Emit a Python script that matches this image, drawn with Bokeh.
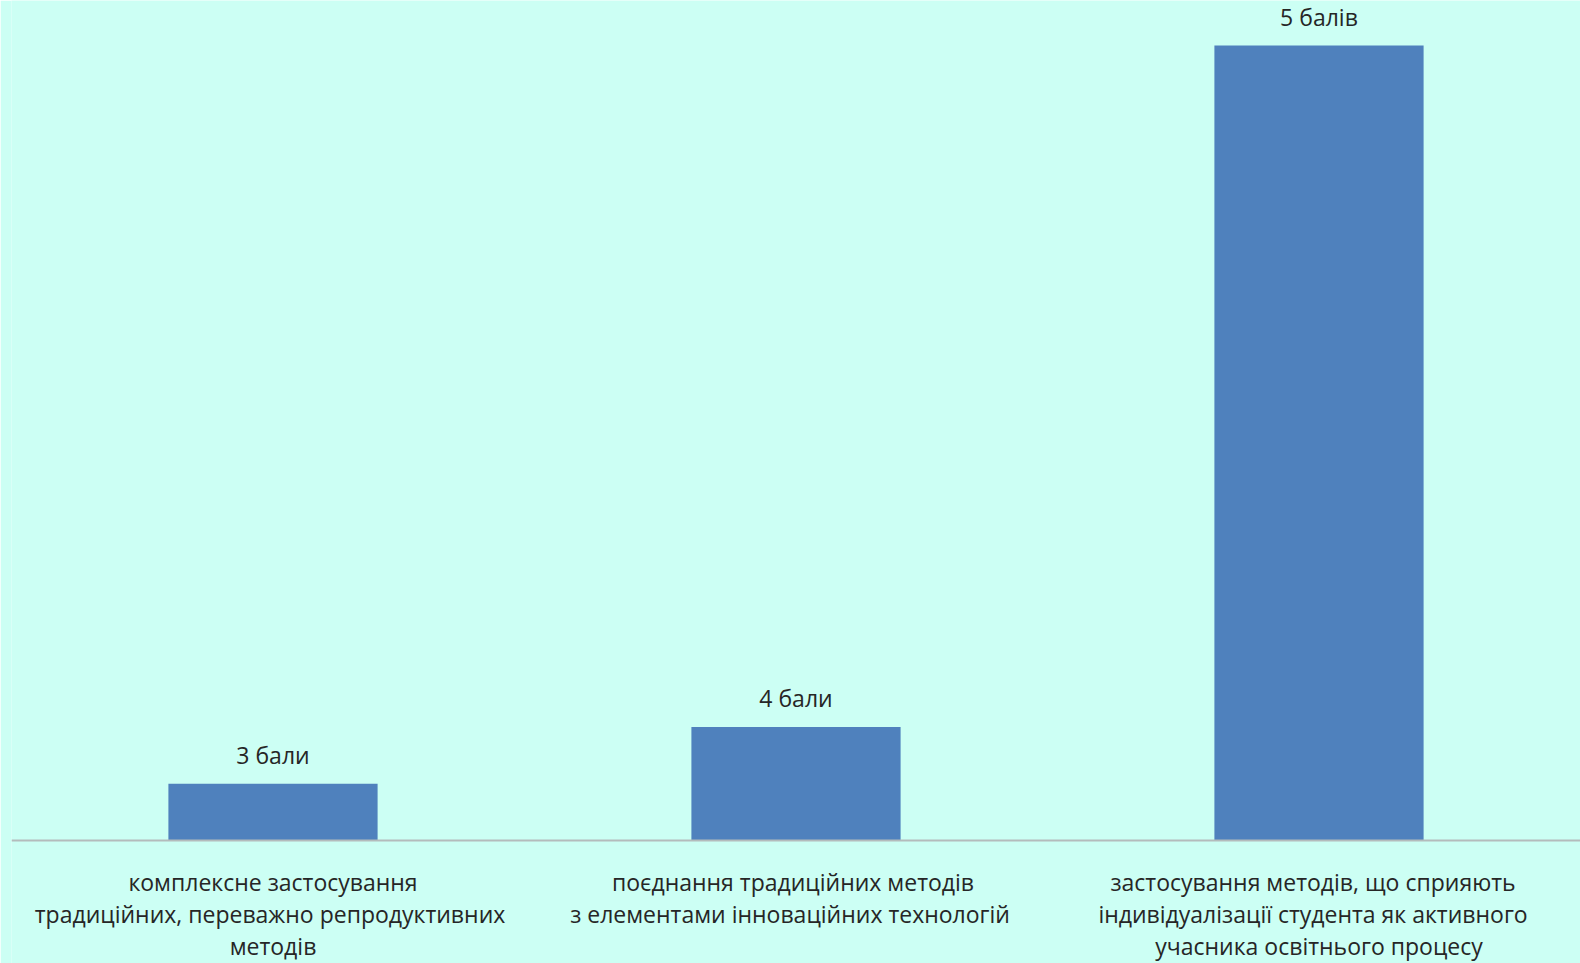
from bokeh.plotting import figure
from bokeh.models import ColumnDataSource, FactorRange, Range1d, Span
from bokeh.core.properties import value
from bokeh.embed import file_html
from bokeh.resources import INLINE

# ---- data ----
categories = [
    "комплексне застосування\nтрадиційних,  переважно репродуктивних\nметодів",
    "поєднання традиційних  методів\nз  елементами інноваційних  технологій",
    "застосування методів,  що  сприяють\nіндивідуалізації  студента  як активного\nучасника освітнього процесу",
]
keys = ["c1", "c2", "c3"]
bar_values = [1, 2, 14]
value_labels = ["3 бали", "4 бали", "5 балів"]

BG = "#ccfff4"
BAR = "#4f81bd"
TXT = "#262626"
FONT = "Open Sans"

W, H = 1580, 963
LEFT = 11
base_px = 840          # baseline position from top of figure
top_px = 45            # top of the tallest bar
unit = (base_px - top_px) / max(bar_values)

p = figure(
    width=W, height=H, output_backend="svg", toolbar_location=None,
    x_range=FactorRange(*keys, range_padding=0),
    y_range=Range1d(-(H - base_px) / unit, base_px / unit),
    min_border=0, min_border_left=LEFT, min_border_right=0,
    min_border_top=0, min_border_bottom=0,
)
p.axis.visible = False
p.grid.visible = False
p.outline_line_color = None
p.background_fill_color = BG
p.border_fill_color = BG

src = ColumnDataSource(dict(x=keys, top=bar_values, lab=value_labels))
p.vbar(x="x", top="top", bottom=0, width=0.4, source=src,
       fill_color=BAR, line_color=None)

p.add_layout(Span(location=0, dimension="width", line_color="#b4bcbc", line_width=2))

p.text(x="x", y="top", text="lab", source=src, y_offset=-29,
       text_align="center", text_baseline="middle",
       text_font=value(FONT), text_font_size="23px", text_color=TXT)

lx, ly, lt, loff = [], [], [], []
for k, cat in zip(keys, categories):
    for i, line in enumerate(cat.split("\n")):
        lx.append(k)
        ly.append(0)
        lt.append(line)
        loff.append(41 + 32 * i)
lsrc = ColumnDataSource(dict(x=lx, y=ly, t=lt, off=loff))
p.text(x="x", y="y", text="t", y_offset="off", source=lsrc,
       text_align="center", text_baseline="middle",
       text_font=value(FONT), text_font_size="23px", text_color=TXT)

html = file_html(p, INLINE)
html = html.replace("<body>", '<body style="background:%s">' % BG, 1)
open("out.html", "w").write(html)
